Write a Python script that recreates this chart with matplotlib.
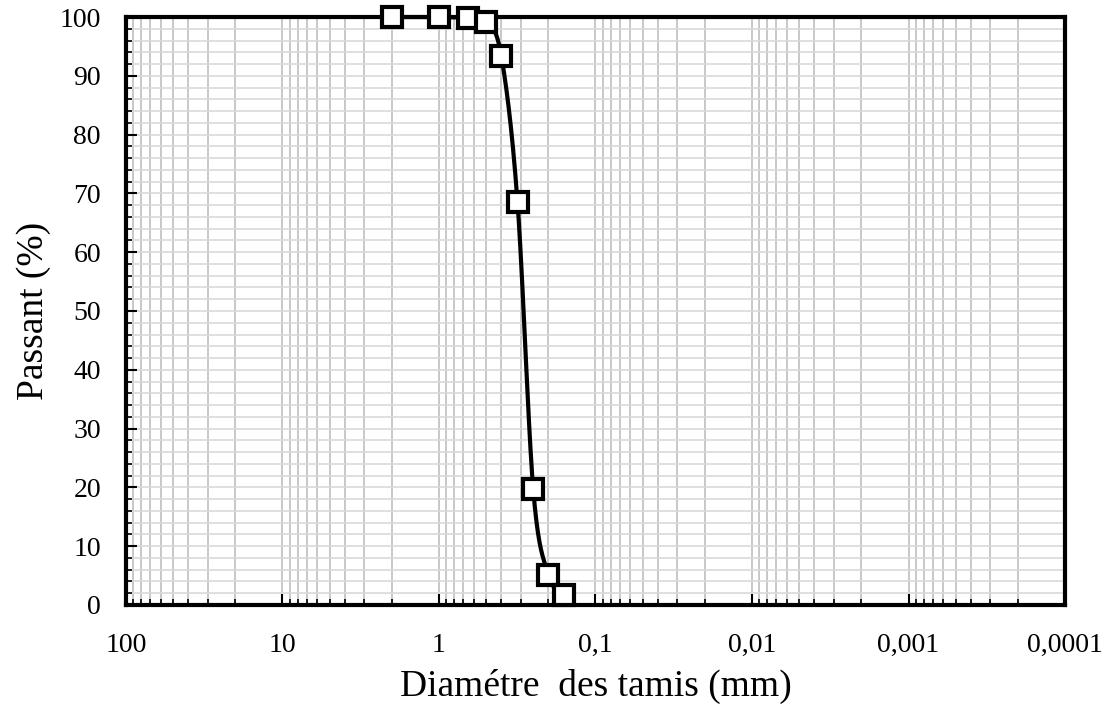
import numpy as np
import matplotlib.pyplot as plt
from matplotlib.ticker import FixedLocator, FixedFormatter, MultipleLocator, LogLocator, NullFormatter

plt.rcParams['font.family'] = ['Liberation Serif', 'DejaVu Serif']

# Sieve openings (mm) and passing percentage
diam = [2.0, 1.0, 0.65, 0.5, 0.4, 0.315, 0.25, 0.2, 0.16]
passant = [100.0, 100.0, 99.8, 99.2, 93.4, 68.5, 19.7, 5.1, 1.7]

xticks = [100, 10, 1, 0.1, 0.01, 0.001, 0.0001]
xtick_labels = ['100', '10', '1', '0,1', '0,01', '0,001', '0,0001']


def smooth(xs, ys, sx=156.5, sy=5.88, n=30):
    # Catmull-Rom spline in screen-like coords (log x), like Excel's smoothed line
    p = np.column_stack([np.log10(xs) * sx, np.array(ys) * sy])
    p = np.vstack([p[0], p, p[-1]])
    out = []
    for i in range(1, len(p) - 2):
        p0, p1, p2, p3 = p[i - 1], p[i], p[i + 1], p[i + 2]
        t = np.linspace(0, 1, n)[:, None]
        c1 = p1 + (p2 - p0) / 6
        c2 = p2 - (p3 - p1) / 6
        seg = (1 - t) ** 3 * p1 + 3 * (1 - t) ** 2 * t * c1 + 3 * (1 - t) * t ** 2 * c2 + t ** 3 * p2
        out.append(seg)
    out = np.vstack(out)
    return 10 ** (out[:, 0] / sx), out[:, 1] / sy


fig = plt.figure(figsize=(11.08, 7.06), dpi=100)
ax = fig.add_axes([0.1137, 0.1431, 0.8475, 0.8328])

xs, ys = smooth(diam, passant)
ax.plot(xs, ys, color='black', lw=3, zorder=3, clip_on=False)
ax.plot(diam, passant, ls='none', marker='s', ms=14, mfc='white', mec='black', mew=3,
        zorder=4, clip_on=False)

ax.set_xscale('log')
ax.set_xlim(100, 0.0001)
ax.set_ylim(0, 100)

ax.xaxis.set_major_locator(FixedLocator(xticks))
ax.xaxis.set_major_formatter(FixedFormatter(xtick_labels))
ax.xaxis.set_minor_locator(LogLocator(base=10, subs=np.arange(2, 10), numticks=20))
ax.xaxis.set_minor_formatter(NullFormatter())
ax.yaxis.set_major_locator(MultipleLocator(10))
ax.yaxis.set_minor_locator(MultipleLocator(2))

ax.grid(True, which='major', axis='x', color='#bfbfbf', lw=1.2)
ax.grid(True, which='minor', axis='x', color='#bfbfbf', lw=1.2)
ax.grid(True, which='both', axis='y', color='#d9d9d9', lw=1.2)
ax.set_axisbelow(True)

ax.tick_params(which='major', direction='in', length=8, width=1.5, labelsize=20)
ax.tick_params(which='minor', direction='in', length=4, width=1.2)
ax.tick_params(axis='x', which='major', pad=20)
ax.tick_params(axis='y', which='major', pad=18)
for s in ax.spines.values():
    s.set_linewidth(3)

ax.set_xlabel('Diamétre  des tamis (mm)', fontsize=27, labelpad=8)
ax.set_ylabel('Passant (%)', fontsize=27, labelpad=6)

fig.savefig('out.png', dpi=100)
